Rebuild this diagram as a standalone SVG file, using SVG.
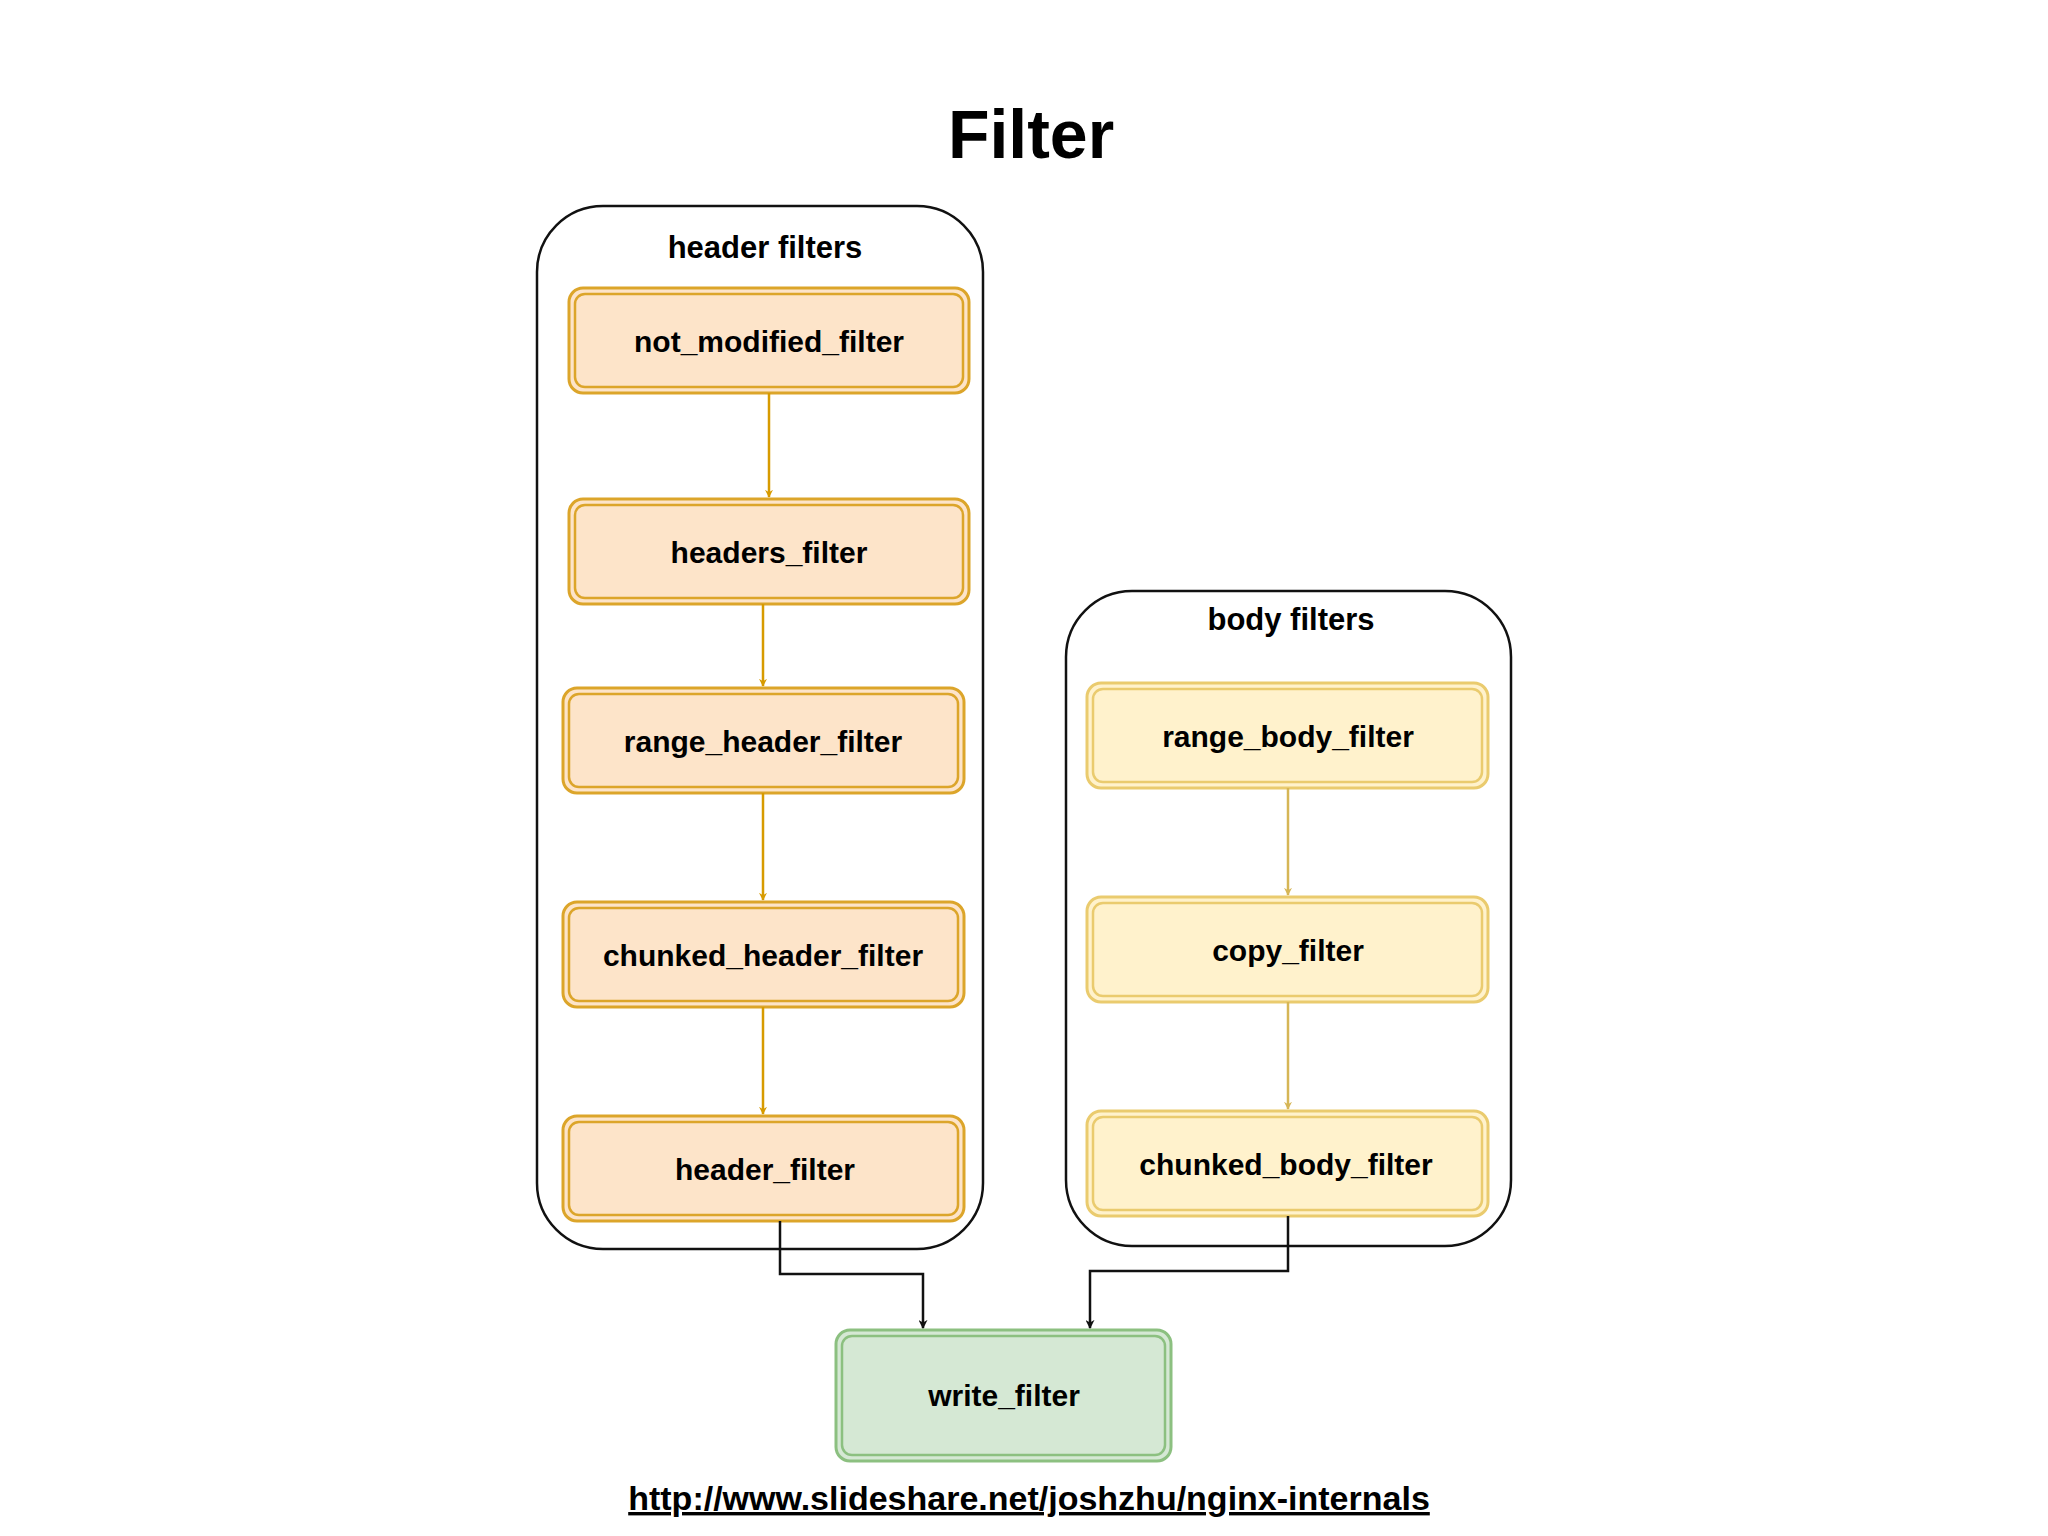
<svg xmlns="http://www.w3.org/2000/svg" width="2048" height="1536" viewBox="0 0 2048 1536">
<style>
text{font-family:"Liberation Sans",Arial,sans-serif;font-weight:bold;fill:#000;text-anchor:middle}
.lbl{font-size:30px}
.cont{fill:none;stroke:#111;stroke-width:2.5}
.h{fill:#fde4c9;stroke:#dca52a;stroke-width:3}
.hi{fill:none;stroke:#dca52a;stroke-width:2.5}
.b{fill:#fff2cc;stroke:#eacb6e;stroke-width:3}
.bi{fill:none;stroke:#eacb6e;stroke-width:2.5}
.g{fill:#d5e8d4;stroke:#8cc080;stroke-width:3}
.gi{fill:none;stroke:#8cc080;stroke-width:2.5}
.ah{stroke:#d79b00;stroke-width:2.5;fill:none}
.ab{stroke:#d6b656;stroke-width:2.5;fill:none}
.ak{stroke:#111;stroke-width:2.5;fill:none}
</style>
<defs>
<marker id="mh" viewBox="0 0 10 10" refX="9" refY="5" markerWidth="8" markerHeight="8" markerUnits="userSpaceOnUse" orient="auto"><path d="M0,0L10,5L0,10L3,5z" fill="#d79b00"/></marker>
<marker id="mb" viewBox="0 0 10 10" refX="9" refY="5" markerWidth="8" markerHeight="8" markerUnits="userSpaceOnUse" orient="auto"><path d="M0,0L10,5L0,10L3,5z" fill="#d6b656"/></marker>
<marker id="mk" viewBox="0 0 10 10" refX="9" refY="5" markerWidth="9" markerHeight="9" markerUnits="userSpaceOnUse" orient="auto"><path d="M0,0L10,5L0,10L3,5z" fill="#111"/></marker>
</defs>
<rect width="2048" height="1536" fill="#fff"/>
<text x="1031" y="158" style="font-size:68px">Filter</text>
<g id="header-filters"><rect class="cont" x="537" y="206" width="446" height="1043" rx="66"/><text x="765" y="258" style="font-size:31px">header filters</text></g>
<g id="body-filters"><rect class="cont" x="1066" y="591" width="445" height="655" rx="66"/><text x="1291" y="630" style="font-size:31px">body filters</text></g>
<g id="not_modified_filter"><rect class="h" x="569" y="288" width="400" height="105" rx="14"/><rect class="hi" x="575" y="294" width="388" height="93" rx="10"/><text class="lbl" x="769" y="352">not_modified_filter</text></g>
<g id="headers_filter"><rect class="h" x="569" y="499" width="400" height="105" rx="14"/><rect class="hi" x="575" y="505" width="388" height="93" rx="10"/><text class="lbl" x="769" y="563">headers_filter</text></g>
<g id="range_header_filter"><rect class="h" x="563" y="688" width="401" height="105" rx="14"/><rect class="hi" x="569" y="694" width="389" height="93" rx="10"/><text class="lbl" x="763" y="752">range_header_filter</text></g>
<g id="chunked_header_filter"><rect class="h" x="563" y="902" width="401" height="105" rx="14"/><rect class="hi" x="569" y="908" width="389" height="93" rx="10"/><text class="lbl" x="763" y="966">chunked_header_filter</text></g>
<g id="header_filter"><rect class="h" x="563" y="1116" width="401" height="105" rx="14"/><rect class="hi" x="569" y="1122" width="389" height="93" rx="10"/><text class="lbl" x="765" y="1180">header_filter</text></g>
<g id="range_body_filter"><rect class="b" x="1087" y="683" width="401" height="105" rx="14"/><rect class="bi" x="1093" y="689" width="389" height="93" rx="10"/><text class="lbl" x="1288" y="747">range_body_filter</text></g>
<g id="copy_filter"><rect class="b" x="1087" y="897" width="401" height="105" rx="14"/><rect class="bi" x="1093" y="903" width="389" height="93" rx="10"/><text class="lbl" x="1288" y="961">copy_filter</text></g>
<g id="chunked_body_filter"><rect class="b" x="1087" y="1111" width="401" height="105" rx="14"/><rect class="bi" x="1093" y="1117" width="389" height="93" rx="10"/><text class="lbl" x="1286" y="1175">chunked_body_filter</text></g>
<g id="write_filter"><rect class="g" x="836" y="1330" width="335" height="131" rx="14"/><rect class="gi" x="842" y="1336" width="323" height="119" rx="10"/><text class="lbl" x="1004" y="1406">write_filter</text></g>
<g id="connectors">
<path class="ah" d="M769,393V497" marker-end="url(#mh)"/>
<path class="ah" d="M763,604V686" marker-end="url(#mh)"/>
<path class="ah" d="M763,793V900" marker-end="url(#mh)"/>
<path class="ah" d="M763,1007V1114" marker-end="url(#mh)"/>
<path class="ab" d="M1288,788V895" marker-end="url(#mb)"/>
<path class="ab" d="M1288,1002V1109" marker-end="url(#mb)"/>
<path class="ak" d="M780,1221V1274H923V1328" marker-end="url(#mk)"/>
<path class="ak" d="M1288,1216V1271H1090V1328" marker-end="url(#mk)"/>
</g>
<text x="1029" y="1510" style="font-size:34px;text-decoration:underline">http://www.slideshare.net/joshzhu/nginx-internals</text>
</svg>
